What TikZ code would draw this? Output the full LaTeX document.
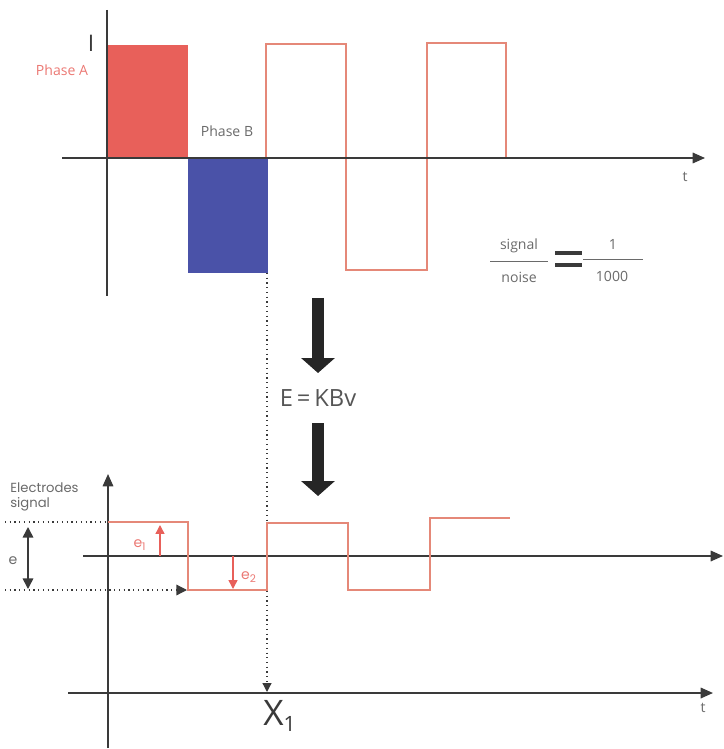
\documentclass[tikz,border=0pt]{standalone}
\usepackage{fontspec}
\setmainfont{Open Sans}
\newfontfamily\geofont{Poppins}
\usetikzlibrary{arrows.meta}
\definecolor{phasered}{HTML}{E8605A}
\definecolor{phaseblue}{HTML}{4A52A8}
\definecolor{wavered}{HTML}{E58878}
\definecolor{axisgray}{HTML}{3A3A3A}
\definecolor{textgray}{HTML}{6A6A6A}
\tikzset{
  axis/.style={axisgray,line width=0.9pt},
  wave/.style={wavered,line width=0.6pt},
  tip/.style={-{Triangle[length=7pt,width=6pt]}},
  bigarrow/.style={black!85,line width=6.3pt,-{Triangle[length=8.5pt,width=18.7pt]}},
  lbl/.style={textgray,font=\fontsize{8}{9}\selectfont,inner sep=0pt}
}
\begin{document}
\begin{tikzpicture}[x=0.02cm,y=-0.02cm]
            \useasboundingbox (0,0) rectangle (723,749);
            % top: current in the coils
            \fill[phasered] (106,45) rectangle (188,158);
            \fill[phaseblue] (188,158) rectangle (268,273);
            \draw[wave] (266,158)--(266,44)--(346,44)--(346,270)--(427,270)--(427,43)--(506,43)--(506,158);
            \draw[axis] (107,10)--(107,296);
            \draw[axis,tip] (62,158)--(705,158);
            \node[lbl] (tA) at (685,177) {t};
            \node[axisgray,font=\fontsize{13}{14}\selectfont,inner sep=0pt] (cur) at (91,43) {I};
            \node[lbl,text=phasered!85] (phA) at (62,70) {Phase A};
            \node[lbl] (phB) at (227,131) {Phase B};
            % signal / noise
            \node[lbl] (sig) at (519,246) {signal};
            \node[lbl] (noi) at (519,277) {noise};
            \draw[textgray,line width=0.5pt] (490,261)--(548,261) (583,259)--(643,259);
            \draw[axisgray,line width=2.3pt] (555,253)--(582,253) (555,265)--(582,265);
            \node[lbl] (one) at (613,244) {1};
            \node[lbl] (thou) at (612,276) {1000};
            % induction
            \draw[bigarrow] (318,298)--(318,373);
            \node[textgray!80!black,font=\fontsize{13.5}{15}\selectfont,inner sep=0pt] (law) at (318,398) {E\,=\,KBv};
            \draw[bigarrow] (318,423)--(318,496);
            \draw[axisgray,dotted,line width=0.7pt,-{Triangle[length=5pt,width=5pt]}] (267,273)--(267,692);
            % bottom: electrodes signal
            \draw[axis,tip] (108,748)--(108,474);
            \node[lbl,font=\geofont\fontsize{7.5}{9}\selectfont,align=left,anchor=north west] (elec) at (10,482) {Electrodes\\signal};
            \draw[axis,tip] (83,556)--(723,556);
            \draw[wave] (108,522)--(188,522)--(188,590)--(267,590)--(267,523)--(348,523)--(348,590)--(430,590)--(430,518)--(510,518);
            \draw[axisgray,dotted,line width=0.7pt] (5,522)--(108,522);
            \draw[axisgray,dotted,line width=0.7pt,-{Triangle[length=6pt,width=6pt]}] (5,590)--(187,590);
            \draw[axisgray,line width=0.9pt,{Triangle[length=6pt,width=6pt]}-{Triangle[length=6pt,width=6pt]}] (28,527)--(28,589);
            \node[lbl,font=\geofont\fontsize{8}{9}\selectfont] (e) at (13,561) {e};
            \draw[phasered,line width=0.8pt,-{Triangle[length=5pt,width=5pt]}] (160,556)--(160,525);
            \draw[phasered,line width=0.8pt,-{Triangle[length=5pt,width=5pt]}] (233,556)--(233,589);
            \node[lbl,text=phasered!85,font=\geofont\fontsize{8}{9}\selectfont] (e1) at (140,545) {e\textsubscript{1}};
            \node[lbl,text=phasered!85,font=\geofont\fontsize{8}{9}\selectfont] (e2) at (249,577) {e\textsubscript{2}};
            \draw[axis,tip] (68,693)--(713,693);
            \node[lbl] (tB) at (703,708) {t};
            \node[axisgray,font=\fontsize{20}{22}\selectfont,inner sep=0pt] (x1) at (280,716) {X\textsubscript{\fontsize{12}{13}\selectfont 1}};
        \end{tikzpicture}
\end{document}
